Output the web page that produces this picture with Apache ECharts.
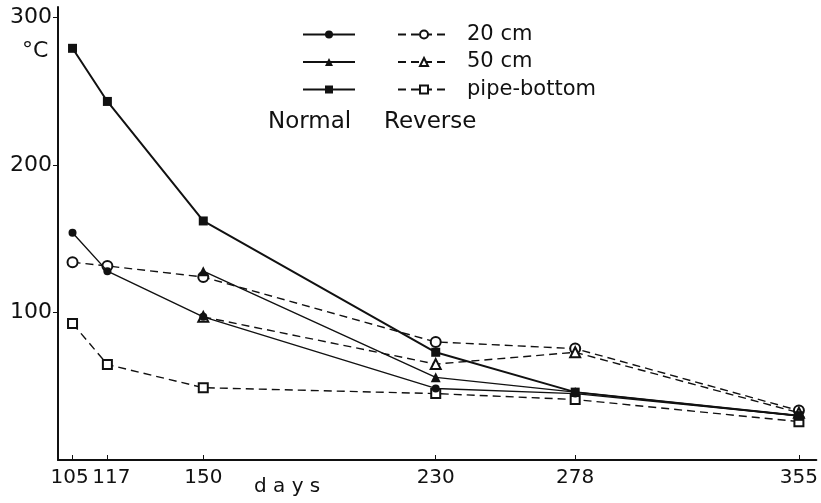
<!DOCTYPE html>
<html><head><meta charset="utf-8">
<script src="https://cdn.jsdelivr.net/npm/echarts@6/dist/echarts.min.js"></script>
<style>html,body{margin:0;padding:0;background:#fff}#c{width:821px;height:503px}</style>
</head><body><div id="c"></div>
<script>
const days = [105, 117, 150, 230, 278, 355];
const xTicks = [105, 117, 150, 230, 278, 355];
const yTicks = [100, 200, 300];
const normal20 = [154, 128, 97, 48.5, 45, 30];
const normal50 = [null, null, 128, 56, 46, 30];
const normalPipe = [279, 243, 162, 73, 46, 30];
const reverse20 = [134, 131.5, 124, 80, 75.5, 33.5];
const reverse50 = [null, null, 97, 65, 73, 32];
const reversePipe = [92.5, 64.7, 49, 45, 41, 26];
const legendNames = ['20 cm', '50 cm', 'pipe-bottom'];

const INK = '#111';
const FONT = 'DejaVu Sans';
function pairs(vals){ const out=[]; vals.forEach((v,i)=>{ if(v!==null) out.push([days[i], v]); }); return out; }
function mk(name, vals, symbol, size, dashed, width){
  return {
    name, type:'line', data: pairs(vals), symbol, symbolSize:size,
    lineStyle:{color:INK, width: width||1.4, type: dashed ? [8,5] : 'solid'},
    itemStyle:{color:INK},
    emphasis:{disabled:true}, animation:false, z: dashed?2:3
  };
}
const chart = echarts.init(document.getElementById('c'));
chart.setOption({
  backgroundColor:'#fff',
  animation:false,
  grid:{left:58, right:1, top:7, bottom:43},
  xAxis:{type:'value', min:100, max:361,
    axisLine:{lineStyle:{color:INK, width:2}},
    splitLine:{show:false},
    axisTick:{inside:true, length:5, lineStyle:{color:INK}, customValues:xTicks},
    axisLabel:{customValues:xTicks, color:INK, fontFamily:FONT, fontSize:20, margin:8,
      formatter:(v)=> v===105 ? '{l|105}' : (v===117 ? '{r|117}' : String(v)),
      rich:{l:{fontFamily:FONT, fontSize:20, color:INK, padding:[0,6,0,0]},
            r:{fontFamily:FONT, fontSize:20, color:INK, padding:[0,0,0,8]}}}
  },
  yAxis:{type:'value', min:0, max:307,
    axisLine:{show:true, lineStyle:{color:INK, width:2}},
    splitLine:{show:false},
    axisTick:{show:true, length:5, lineStyle:{color:INK}, customValues:yTicks},
    axisLabel:{customValues:yTicks, color:INK, fontFamily:FONT, fontSize:22, margin:6}
  },
  legend:[
    {data:['Normal 20cm','Normal 50cm','Normal pipe'], orient:'vertical', left:297, top:19,
     itemWidth:52, itemHeight:10, itemGap:6.5, formatter:()=>' ',
     textStyle:{fontSize:21, lineHeight:20, fontFamily:FONT}, selectedMode:false},
    {data:['Reverse 20cm','Reverse 50cm','Reverse pipe'], orient:'vertical', left:392, top:19,
     itemWidth:52, itemHeight:10, itemGap:6.5,
     formatter:(n)=>({'Reverse 20cm':legendNames[0],'Reverse 50cm':legendNames[1],'Reverse pipe':legendNames[2]}[n]),
     textStyle:{fontSize:21, lineHeight:20, color:INK, fontFamily:FONT, padding:[0,0,0,12]}, selectedMode:false}
  ],
  graphic:[
    {type:'text', left:268, top:111, style:{text:'Normal', font:'23px '+FONT, fill:INK}},
    {type:'text', left:384, top:111, style:{text:'Reverse', font:'23px '+FONT, fill:INK}},
    {type:'text', left:22, top:40, style:{text:'°C', font:'22px '+FONT, fill:INK}},
    {type:'text', left:254, top:477, style:{text:'d a y s', font:'20px '+FONT, fill:INK}}
  ],
  series:[
    mk('Normal 20cm', normal20, 'circle', 8, false),
    mk('Normal 50cm', normal50, 'triangle', 10, false),
    mk('Normal pipe', normalPipe, 'rect', 9, false, 2),
    mk('Reverse 20cm', reverse20, 'emptyCircle', 10, true),
    mk('Reverse 50cm', reverse50, 'emptyTriangle', 10, true),
    mk('Reverse pipe', reversePipe, 'emptyRect', 9, true)
  ]
});
</script></body></html>
